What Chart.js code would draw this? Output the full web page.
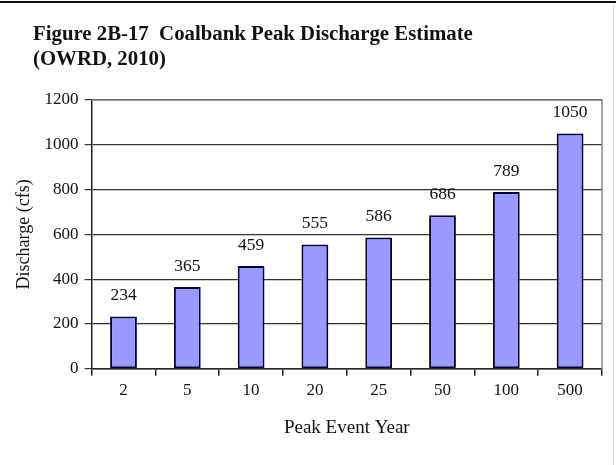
<!DOCTYPE html>
<html>
<head>
<meta charset="utf-8">
<script src="https://cdn.jsdelivr.net/npm/chart.js@4.4.0/dist/chart.umd.min.js"></script>
<style>
  html, body { margin: 0; padding: 0; background: #fff; }
  #wrap { position: relative; width: 616px; height: 465px; }
  #wrap:before { content: ""; position: absolute; left: 0; right: 0; top: 1px; height: 2px; background: #111; }
  #wrap:after { content: ""; position: absolute; right: 2px; top: 3px; bottom: 0; width: 1px; background: #ddd; }
</style>
</head>
<body>
<div id="wrap"><canvas id="chart" width="616" height="465"></canvas></div>
<script>
const years = ["2", "5", "10", "20", "25", "50", "100", "500"]
const discharge = [234, 365, 459, 555, 586, 686, 789, 1050]
const titleLines = ["Figure 2B-17  Coalbank Peak Discharge Estimate", "(OWRD, 2010)"]
const yTitle = "Discharge (cfs)"
const xTitle = "Peak Event Year"

const serif = "'Liberation Serif', 'DejaVu Serif', serif"

// titolo in alto a sinistra
const figureTitle = {
  id: "figureTitle",
  afterDraw(chart) {
    const { ctx } = chart
    ctx.save()
    ctx.font = "bold 20.8px " + serif
    ctx.fillStyle = "#111"
    ctx.textBaseline = "alphabetic"
    ctx.fillText(titleLines[0], 33, 40)
    ctx.fillText(titleLines[1], 33, 65)
    ctx.restore()
  },
}

// valori sopra le barre
const barValues = {
  id: "barValues",
  afterDatasetsDraw(chart) {
    const { ctx } = chart
    const meta = chart.getDatasetMeta(0)
    ctx.save()
    ctx.font = "17.5px " + serif
    ctx.fillStyle = "#111"
    ctx.textAlign = "center"
    ctx.textBaseline = "bottom"
    meta.data.forEach(function (bar, i) {
      ctx.fillText(discharge[i], bar.x, bar.y - 12)
    })
    ctx.restore()
  },
}

// bordo grigio del riquadro
const plotFrame = {
  id: "plotFrame",
  beforeDatasetsDraw(chart) {
    const { ctx, chartArea } = chart
    ctx.save()
    ctx.strokeStyle = "#888"
    ctx.lineWidth = 1.5
    ctx.beginPath()
    ctx.moveTo(chartArea.left, chartArea.top)
    ctx.lineTo(chartArea.right, chartArea.top)
    ctx.lineTo(chartArea.right, chartArea.bottom)
    ctx.stroke()
    ctx.restore()
  },
}

const ctx = document.getElementById("chart")
const chart = new Chart(ctx, {
  type: "bar",
  plugins: [plotFrame, barValues, figureTitle],
  data: {
    labels: years,
    datasets: [
      {
        data: discharge,
        backgroundColor: "#9999ff",
        borderColor: "#000033",
        borderWidth: 2,
        borderSkipped: false,
        barPercentage: 0.42,
        categoryPercentage: 1,
      },
    ],
  },
  options: {
    responsive: false,
    animation: false,
    layout: { padding: { top: 100, right: 14, bottom: 22, left: 9 } },
    plugins: { legend: { display: false }, tooltip: { enabled: false } },
    scales: {
      x: {
        offset: true,
        grid: { offset: true, drawOnChartArea: false, color: "#222", tickLength: 7, lineWidth: 1.5 },
        border: { color: "#222", width: 1.5 },
        ticks: { color: "#111", font: { family: serif, size: 17 }, padding: 5 },
        title: { display: true, text: xTitle, color: "#111", font: { family: serif, size: 19 }, padding: { top: 10 } },
      },
      y: {
        min: 0,
        max: 1200,
        ticks: {
          stepSize: 200,
          color: "#111",
          font: { family: serif, size: 17 },
          padding: 6,
          callback: function (v) { return String(v) },
        },
        grid: { color: "#333", lineWidth: 1.2, tickLength: 7 },
        border: { color: "#222", width: 1.5 },
        title: { display: true, text: yTitle, color: "#111", font: { family: serif, size: 18 }, padding: { bottom: 4 } },
      },
    },
  },
})
</script>
</body>
</html>
